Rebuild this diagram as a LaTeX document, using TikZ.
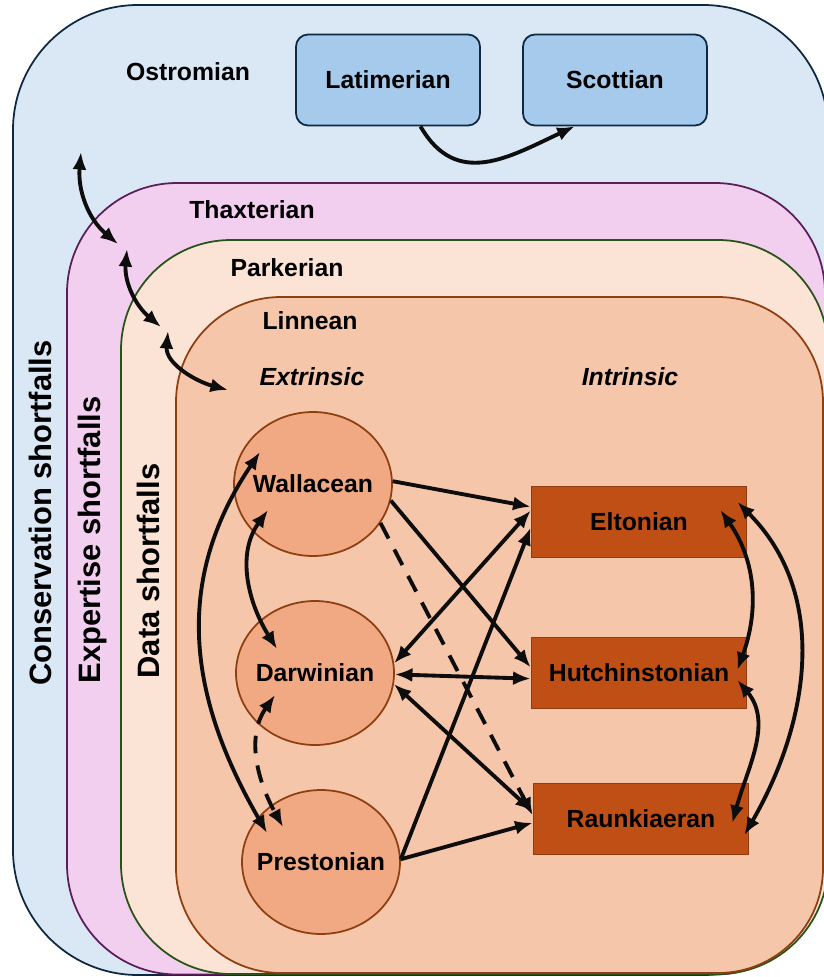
\documentclass[tikz,border=0pt]{standalone}
\usepackage{xcolor}
\usepackage{fontspec}
\setmainfont{Liberation Sans}
\usepackage{tikz}
\usetikzlibrary{calc}
\usetikzlibrary{arrows.meta}
\usetikzlibrary{shapes.geometric}

\definecolor{ostfill}{HTML}{DAE8F5}
\definecolor{ostline}{HTML}{0E2841}
\definecolor{thafill}{HTML}{F2CEEF}
\definecolor{thaline}{HTML}{5B1E5B}
\definecolor{parfill}{HTML}{FBE3D6}
\definecolor{parline}{HTML}{275317}
\definecolor{linfill}{HTML}{F6C6AB}
\definecolor{linline}{HTML}{8E3F10}
\definecolor{boxfill}{HTML}{A6CAEC}
\definecolor{circfill}{HTML}{F1A983}
\definecolor{rectfill}{HTML}{C04F15}
\definecolor{rectline}{HTML}{903C10}

\tikzstyle{every node}=[font=\fontsize{14.1}{16}\selectfont\bfseries]
\tikzstyle{shortfall}=[rotate=90, font=\fontsize{17.6}{20}\selectfont\bfseries]
\tikzstyle{zone}=[line width=1pt]
\tikzstyle{topbox}=[draw=ostline, fill=boxfill, line width=1pt, rounded corners=0.24cm, minimum width=3.68cm, minimum height=1.82cm]
\tikzstyle{extbox}=[ellipse, draw=linline, fill=circfill, line width=1pt, inner sep=0pt, minimum width=3.16cm, minimum height=2.88cm]
\tikzstyle{intbox}=[rectangle, draw=rectline, fill=rectfill, line width=1pt, minimum width=4.3cm, minimum height=1.42cm]
\tikzstyle{link}=[->, line width=2.2pt, black!95]
\tikzstyle{both}=[<->, line width=2.2pt, black!95]
\tikzstyle{maybe}=[dash pattern=on 10pt off 7pt]

\begin{document}
\begin{tikzpicture}[>={Latex[length=10pt, width=8pt]}, x=0.02cm, y=-0.02cm]
                \useasboundingbox (0, 0) rectangle (824, 977);
                \clip (0, 0) rectangle (824, 977);
                % nested shortfall zones
                \draw [zone, draw=ostline, fill=ostfill, rounded corners=2.5cm] (13, 5) rectangle (828, 975);
                \draw [zone, draw=thaline, fill=thafill, rounded corners=2.2cm] (67, 183) rectangle (825, 974.5);
                \draw [zone, draw=parline, fill=parfill, rounded corners=2.2cm] (121, 240) rectangle (828, 974);
                \draw [zone, draw=linline, fill=linfill, rounded corners=2.1cm] (176, 297) rectangle (823, 973);

                \node [shortfall] (consv) at (40, 513) {Conservation shortfalls};
                \node [shortfall] (exper) at (93, 540) {Expertise shortfalls};
                \node [shortfall] (data) at (148, 571) {Data shortfalls};

                \node (ost) at (188, 72) {Ostromian};
                \node (tha) at (252, 210) {Thaxterian};
                \node (par) at (287, 268) {Parkerian};
                \node (lin) at (310, 321) {Linnean};
                \node [font=\fontsize{14.1}{16}\selectfont\bfseries\itshape] (ext) at (312, 377) {Extrinsic};
                \node [font=\fontsize{14.1}{16}\selectfont\bfseries\itshape] (intr) at (630, 377) {Intrinsic};

                \node [topbox] (lat) at (388, 80) {Latimerian};
                \node [topbox] (sco) at (615, 80) {Scottian};

                \node [extbox, label=center:Wallacean] (wal) at (313, 484) {};
                \node [extbox, label=center:Darwinian] (dar) at (315, 673) {};
                \node [extbox, label=center:Prestonian] (pre) at (321, 862) {};

                \node [intbox] (elt) at (639, 522) {Eltonian};
                \node [intbox] (hut) at (639, 673) {Hutchinstonian};
                \node [intbox] (rau) at (641, 819) {Raunkiaeran};

                % free ends of the chain across the zones
                \coordinate (c1) at (81, 152);
                \coordinate (c2) at (118, 244);
                \coordinate (c3) at (127, 249);
                \coordinate (c4) at (161, 327);
                \coordinate (c5) at (168, 331);
                \coordinate (c6) at (228, 390);

                \draw [both] (c1) to [out=-95, in=140] (c2);
                \draw [both] (c3) to [out=-95, in=140] (c4);
                \draw [both] (c5) to [out=-95, in=165] (c6);

                \draw [link] (lat.-55) to [out=-60, in=205, looseness=1.2] (sco.-131);

                \draw [link] (wal.2) -- (elt.172);
                \draw [link] (wal.-12) -- (hut.177);
                \draw [link, maybe] (wal.-30) -- (rau.178);
                \draw [both] (dar.7) -- (elt.174);
                \draw [link] (pre.2) -- (elt.183);
                \draw [both] (dar.-1) -- (hut.183);
                \draw [both] (dar.-8) -- (rau.176);
                \draw [link] (pre.2) -- (rau.182);

                \draw [both] ([shift={(-45, 26)}]wal.center) to [out=234, in=122] ([shift={(-38, -24)}]dar.center);
                \draw [both, maybe] ([shift={(-40, 22)}]dar.center) to [out=235, in=119] ([shift={(-38, -35)}]pre.center);
                \draw [both] ([shift={(-53, -32)}]wal.center) to [out=236, in=120, looseness=1.05] ([shift={(-54, -29)}]pre.center);

                \draw [both] ([shift={(-27, -12)}]elt.east) to [out=-55, in=70] ([shift={(-10, -3)}]hut.east);
                \draw [both] ([shift={(-10, 7)}]hut.east) to [out=-50, in=75] ([shift={(-17, 4)}]rau.east);
                \draw [both] ([shift={(-10, -20)}]elt.east) to [out=-45, in=60] ([shift={(-5, 16)}]rau.east);
            \end{tikzpicture}
\end{document}
